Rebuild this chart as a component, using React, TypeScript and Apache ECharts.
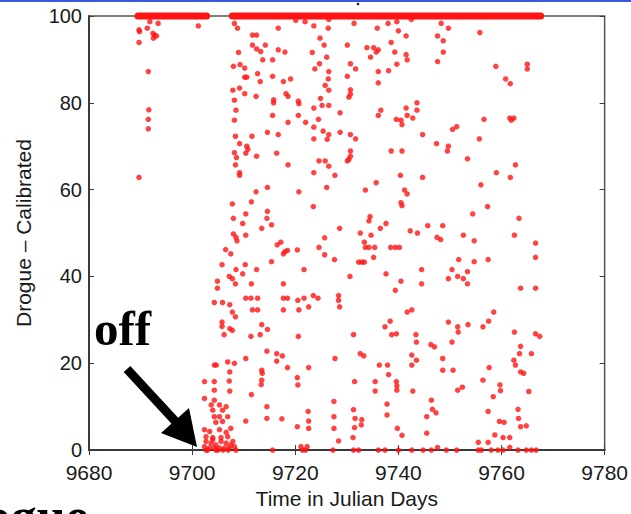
import React, { useEffect, useRef } from "react";
import * as echarts from "echarts";

// ---- data (day, calibrated drogue value) ----
const xTickValues = [9680, 9700, 9720, 9740, 9760, 9780];
const yTickValues = [0, 20, 40, 60, 80, 100];

// runs of saturated readings at 100 (start day, end day)
const saturatedRuns: [number, number][] = [
  [9689.5, 9702.8],
  [9707.8, 9767.6],
];
const saturatedLevel = 100;

const earlyPoints: [number, number][] = [
  [9691.8, 98.7], [9693.4, 98.3], [9689.7, 96.8], [9689.8, 96.4], [9691.3, 97.2], [9692.4, 96.0],
  [9692.7, 95.6], [9692.5, 94.9], [9693.1, 95.4], [9689.7, 93.9], [9701.2, 97.7], [9691.5, 87.2],
  [9691.6, 78.4], [9691.5, 76.2], [9691.5, 74.0], [9689.7, 62.8],
];

const upperPoints: [number, number][] = [
  [9708.2, 98.3], [9708.8, 97.2], [9711.7, 95.6], [9712.5, 95.6], [9711.7, 93.3], [9712.5, 92.4],
  [9713.3, 91.8], [9713.7, 89.9], [9714.2, 93.3], [9709.0, 91.6], [9716.7, 97.2], [9716.7, 92.2],
  [9718.0, 91.7], [9715.6, 89.9], [9708.0, 88.4], [9709.3, 88.8], [9710.2, 88.0], [9710.2, 85.9],
  [9710.6, 85.9], [9712.7, 86.7], [9713.2, 84.9], [9715.6, 86.1], [9717.7, 84.9], [9719.1, 85.5],
  [9707.9, 82.9], [9709.2, 83.4], [9710.2, 82.1], [9712.4, 81.5], [9715.8, 80.7], [9715.8, 80.0],
  [9718.2, 82.1], [9718.6, 81.5], [9720.6, 80.4], [9720.7, 79.8], [9708.2, 80.6], [9708.5, 78.3],
  [9715.6, 77.1], [9708.2, 76.0], [9711.6, 72.3], [9714.6, 73.2], [9716.7, 72.7], [9718.6, 75.5],
  [9720.6, 77.1], [9722.0, 75.5], [9723.6, 78.8], [9723.6, 74.4], [9724.5, 76.2], [9725.2, 79.4],
  [9726.5, 79.4], [9726.4, 85.5], [9725.8, 84.0], [9726.5, 82.9], [9724.9, 81.0], [9723.6, 71.7],
  [9726.5, 72.7], [9725.4, 73.5], [9726.2, 71.6], [9728.7, 73.2], [9728.7, 77.7], [9708.4, 72.3],
  [9709.2, 70.6], [9710.6, 70.0], [9710.8, 69.3], [9710.4, 68.4], [9712.5, 67.7], [9708.2, 68.5],
  [9708.6, 67.4], [9708.4, 65.7], [9709.2, 63.9], [9709.2, 63.3], [9716.4, 68.4], [9718.6, 65.7],
  [9723.6, 63.9], [9724.6, 66.6], [9725.8, 66.6], [9726.5, 65.4], [9727.7, 63.3], [9712.4, 59.5],
  [9714.6, 60.5], [9720.7, 59.5], [9726.1, 60.5], [9720.1, 99.0], [9721.9, 98.7], [9723.6, 97.7],
  [9726.5, 99.2], [9726.4, 97.2], [9724.8, 94.9], [9725.6, 93.3], [9723.3, 91.6], [9726.1, 90.5],
  [9724.7, 89.0], [9723.8, 87.8], [9726.5, 87.2], [9730.1, 93.3], [9730.1, 86.1], [9730.1, 66.6],
  [9731.4, 98.3], [9735.9, 97.2], [9738.0, 98.3], [9739.7, 98.7], [9742.5, 99.2], [9740.0, 96.6],
  [9741.5, 95.4], [9748.3, 98.3], [9749.7, 97.2], [9747.6, 95.4], [9748.7, 94.3], [9755.8, 96.2],
  [9733.9, 92.7], [9735.2, 92.7], [9736.1, 92.2], [9735.7, 91.7], [9734.6, 90.5], [9738.6, 93.9],
  [9739.3, 91.7], [9741.5, 91.1], [9741.7, 89.9], [9748.7, 91.7], [9747.6, 89.5], [9739.7, 88.9],
  [9730.7, 89.0], [9731.7, 87.8], [9736.1, 87.2], [9738.1, 87.4], [9736.1, 84.6], [9758.9, 88.4],
  [9765.0, 88.9], [9765.0, 87.8], [9760.8, 85.5], [9761.7, 84.4], [9730.7, 83.0], [9730.7, 82.0],
  [9730.4, 81.3], [9736.6, 78.3], [9736.1, 77.1], [9741.5, 78.8], [9743.6, 80.0], [9743.6, 78.3],
  [9741.7, 77.1], [9742.8, 76.5], [9739.6, 76.2], [9740.5, 76.0], [9740.7, 75.0], [9756.6, 76.2],
  [9761.6, 76.5], [9762.4, 76.5], [9761.9, 76.0], [9751.3, 74.5], [9750.5, 73.9], [9744.7, 72.7],
  [9730.7, 72.7], [9731.7, 71.7], [9747.4, 70.6], [9749.7, 70.0], [9749.5, 68.9], [9755.7, 71.7],
  [9738.6, 68.9], [9740.7, 68.9], [9730.7, 68.9], [9730.7, 67.7], [9730.4, 67.0], [9753.4, 67.1],
  [9762.7, 65.7], [9740.4, 63.3], [9744.7, 62.8], [9759.0, 63.9], [9761.7, 62.8], [9735.7, 61.6],
  [9733.6, 59.9], [9741.2, 59.9], [9741.7, 59.0], [9756.0, 61.1],
];

const middlePoints: [number, number][] = [
  [9707.8, 56.7], [9711.5, 57.2], [9723.5, 56.1], [9740.5, 57.0], [9740.7, 56.3],
  [9708.0, 53.4], [9710.4, 54.4], [9714.6, 55.0], [9714.5, 53.4], [9734.5, 53.8], [9734.3, 52.8],
  [9737.6, 52.2], [9736.5, 51.1], [9757.3, 56.1], [9754.4, 54.4], [9763.4, 53.4],
  [9709.8, 52.2], [9713.5, 51.1], [9715.4, 51.9], [9728.6, 51.1], [9732.6, 50.0], [9734.7, 49.5],
  [9742.3, 50.5], [9743.7, 50.0], [9745.7, 51.7], [9748.6, 51.7], [9747.5, 49.0], [9748.2, 48.5],
  [9752.6, 49.5], [9754.7, 48.2], [9762.5, 49.5], [9766.6, 47.7],
  [9708.0, 49.8], [9708.5, 49.0], [9708.7, 48.2], [9710.4, 49.5], [9716.5, 47.3], [9717.2, 47.9],
  [9718.0, 45.7], [9718.5, 46.0], [9717.7, 45.2], [9720.4, 46.1], [9725.7, 48.9], [9724.6, 46.7],
  [9725.7, 45.0], [9727.6, 43.9], [9733.4, 47.9], [9733.6, 46.7], [9734.3, 46.7], [9735.4, 46.7],
  [9738.5, 46.7], [9739.4, 46.7], [9740.2, 46.7], [9735.2, 44.4], [9732.9, 43.3], [9732.3, 43.3],
  [9733.4, 43.3], [9706.5, 46.2], [9707.5, 45.2], [9715.4, 43.4], [9721.7, 41.6], [9730.6, 40.0],
  [9737.6, 40.6], [9740.5, 38.9], [9739.4, 36.8], [9744.5, 41.6], [9744.5, 38.3], [9749.7, 39.5],
  [9751.7, 43.9], [9754.7, 43.4], [9757.4, 43.9], [9750.4, 41.6], [9751.5, 40.0], [9752.6, 39.5],
  [9753.4, 41.1], [9753.4, 38.3], [9766.6, 44.4], [9763.7, 37.3], [9766.6, 37.3],
  [9705.8, 42.7], [9710.3, 42.7], [9708.5, 41.6], [9709.8, 40.6], [9712.5, 41.6], [9704.9, 38.9],
  [9704.9, 37.3], [9707.2, 40.0], [9707.8, 39.5], [9708.4, 38.3], [9711.5, 38.3], [9704.3, 34.0],
  [9705.9, 34.0], [9707.3, 33.5], [9707.8, 31.8], [9708.4, 30.7], [9710.4, 35.0], [9711.4, 35.0],
  [9712.7, 35.0], [9711.7, 32.3], [9712.7, 32.3], [9717.7, 38.3], [9717.7, 35.0], [9718.5, 35.0],
  [9717.7, 32.3], [9720.5, 34.5], [9720.7, 32.3], [9721.7, 35.0], [9722.6, 33.0], [9723.5, 35.6],
  [9724.4, 35.0], [9728.4, 35.6], [9728.4, 34.5], [9728.6, 33.0], [9741.7, 31.8], [9742.6, 32.3],
  [9738.4, 29.7], [9737.4, 28.4], [9738.7, 26.6], [9739.6, 26.8], [9743.4, 26.6], [9743.5, 24.9],
  [9746.3, 24.3], [9747.0, 23.8], [9749.7, 29.5], [9751.5, 28.4], [9751.6, 27.2], [9753.5, 28.9],
  [9756.4, 28.4], [9757.5, 29.7], [9758.5, 31.8], [9762.5, 27.2], [9766.6, 26.8], [9767.4, 26.2],
  [9705.8, 29.5], [9705.8, 28.5], [9706.2, 26.6], [9707.3, 28.0], [9707.8, 27.6], [9713.5, 28.9],
  [9714.6, 27.8], [9713.2, 26.6], [9711.4, 26.2], [9720.6, 26.2], [9731.3, 26.6], [9714.5, 22.8],
  [9716.4, 22.2], [9717.5, 21.7], [9716.4, 20.5], [9718.5, 19.0], [9722.6, 19.0], [9710.4, 21.1],
  [9713.5, 18.4], [9713.6, 17.7], [9727.7, 21.1], [9732.6, 22.2], [9733.3, 21.7], [9736.3, 19.6],
  [9737.9, 19.6], [9742.6, 21.9], [9742.6, 19.6], [9743.5, 20.7], [9748.6, 21.1], [9748.6, 18.4],
  [9750.4, 24.9], [9750.6, 18.4], [9757.6, 19.0], [9763.7, 23.9], [9763.5, 22.2], [9765.8, 22.2],
  [9762.4, 20.7], [9762.7, 19.6], [9763.7, 18.0], [9764.3, 17.7],
];

const lowerPoints: [number, number][] = [
  [9704.3, 19.6], [9704.7, 19.6], [9706.9, 20.3], [9708.2, 20.0], [9707.3, 18.0], [9707.2, 15.9],
  [9707.3, 13.6], [9702.4, 15.8], [9704.3, 15.8], [9704.3, 13.8], [9711.5, 12.8], [9713.5, 16.1],
  [9713.4, 15.1], [9720.4, 16.7], [9720.5, 15.0], [9731.5, 15.8], [9735.5, 15.8], [9735.5, 13.6],
  [9739.6, 15.8], [9739.7, 14.8], [9739.7, 13.8], [9742.8, 13.6], [9751.5, 13.8], [9752.4, 14.5],
  [9756.4, 16.1], [9759.7, 15.0], [9759.8, 13.7], [9765.3, 13.5], [9738.1, 17.4],
  [9714.5, 10.0], [9714.5, 7.3], [9710.4, 6.7], [9717.4, 7.2], [9720.4, 5.4], [9722.5, 8.9],
  [9722.6, 6.7], [9722.6, 5.0], [9727.5, 11.2], [9727.5, 7.7], [9727.5, 5.0], [9728.4, 2.1],
  [9731.3, 9.3], [9731.6, 7.3], [9731.5, 5.2], [9732.8, 5.8], [9732.9, 7.0], [9731.2, 2.9],
  [9737.8, 10.6], [9737.8, 8.1], [9739.8, 5.0], [9740.7, 3.4], [9746.4, 11.5], [9746.6, 9.4],
  [9747.3, 8.6], [9745.5, 7.7], [9745.5, 3.9], [9763.2, 9.4], [9763.3, 7.3], [9763.7, 5.4],
  [9764.8, 5.6], [9758.4, 12.3], [9757.4, 8.9], [9759.6, 6.6], [9760.5, 6.4], [9758.7, 3.5],
  [9760.3, 2.9], [9761.6, 2.9], [9755.5, 1.8], [9757.4, 1.8],
  [9702.4, 11.9], [9703.7, 10.4], [9704.3, 11.5], [9705.3, 10.4], [9706.6, 10.0], [9704.0, 9.2],
  [9705.9, 9.2], [9704.3, 7.7], [9705.3, 7.7], [9706.9, 7.7], [9704.6, 6.4], [9705.9, 6.6],
  [9702.4, 4.7], [9703.4, 4.3], [9705.3, 4.7], [9706.6, 4.1], [9707.5, 5.0], [9702.7, 3.1],
  [9704.0, 2.9], [9705.6, 2.9], [9706.9, 3.1], [9702.7, 2.0], [9703.7, 1.6], [9704.6, 1.2],
  [9705.6, 2.0], [9706.6, 1.6], [9707.5, 1.2], [9702.4, 0.8], [9703.4, 0.5], [9704.3, 0.5],
  [9705.3, 0.5], [9706.3, 0.5], [9707.2, 0.5], [9708.2, 0.8], [9704.0, 2.4], [9707.9, 2.0],
];

const bottomPoints: [number, number][] = [
  [9702.7, 0], [9703.0, 0], [9704.6, 0], [9705.0, 0], [9706.0, 0], [9707.0, 0], [9708.5, 0],
  [9715.6, 0], [9721.1, 0.8], [9721.4, 0], [9722.0, 0], [9722.3, 0.8], [9727.3, 0], [9731.3, 0],
  [9732.3, 0], [9736.1, 0], [9737.4, 0], [9740.0, 0], [9742.6, 0], [9744.8, 0], [9746.4, 0],
  [9747.6, 0.6], [9749.3, 0], [9751.3, 0], [9755.5, 0], [9756.1, 0], [9758.0, 0], [9759.3, 0],
  [9760.3, 0], [9761.6, 0.6], [9763.2, 0], [9764.8, 0], [9765.8, 0], [9766.7, 0],
];

const RED = "#ff1414";
const AXIS = "#3a3a3a";

export default function App() {
  const ref = useRef<HTMLDivElement>(null);

  useEffect(() => {
    if (!ref.current) return;
    const chart = echarts.init(ref.current, undefined, { renderer: "svg" });

    const scatterStyle = (data: [number, number][]) => ({
      type: "scatter" as const,
      data,
      symbol: "circle",
      symbolSize: 5.5,
      itemStyle: { color: RED },
      silent: true,
      clip: false,
    });

    const runSeries = saturatedRuns.map(([a, b]) => ({
      type: "line" as const,
      data: [
        [a, saturatedLevel],
        [b, saturatedLevel],
      ],
      symbol: "none",
      lineStyle: { color: RED, width: 7, cap: "round" },
      silent: true,
      clip: false,
      z: 3,
    }));

    const labelFont = { fontFamily: "Liberation Sans, Arial, sans-serif", color: "#1a1a1a" };

    chart.setOption({
      animation: false,
      backgroundColor: "#ffffff",
      grid: {
        left: 89,
        right: 24,
        top: 16,
        bottom: 62,
        show: true,
        borderColor: "#555",
        borderWidth: 1.5,
      },
      xAxis: [
        {
          type: "value",
          min: xTickValues[0],
          max: xTickValues[xTickValues.length - 1],
          interval: 20,
          axisLine: { show: true, onZero: false, lineStyle: { color: AXIS, width: 2 } },
          axisTick: { show: true, inside: true, length: 5, lineStyle: { color: AXIS } },
          axisLabel: { ...labelFont, fontSize: 21, margin: 12, formatter: (v: number) => String(v) },
          splitLine: { show: false },
          name: "Time in Julian Days",
          nameLocation: "middle",
          nameGap: 36,
          nameTextStyle: { ...labelFont, fontSize: 21 },
        },
        {
          type: "value",
          position: "top",
          min: xTickValues[0],
          max: xTickValues[xTickValues.length - 1],
          interval: 20,
          axisLine: { show: false },
          axisTick: { show: true, inside: true, length: 5, lineStyle: { color: AXIS } },
          axisLabel: { show: false },
          splitLine: { show: false },
        },
      ],
      yAxis: [
        {
          type: "value",
          min: yTickValues[0],
          max: yTickValues[yTickValues.length - 1],
          interval: 20,
          axisLine: { show: true, onZero: false, lineStyle: { color: AXIS, width: 2 } },
          axisTick: { show: true, inside: true, length: 5, lineStyle: { color: AXIS } },
          axisLabel: { ...labelFont, fontSize: 20, margin: 7, formatter: (v: number) => String(v) },
          splitLine: { show: false },
          name: "Drogue \u2013 Calibrated",
          nameLocation: "middle",
          nameGap: 55,
          nameTextStyle: { ...labelFont, fontSize: 21 },
        },
        {
          type: "value",
          position: "right",
          min: yTickValues[0],
          max: yTickValues[yTickValues.length - 1],
          interval: 20,
          axisLine: { show: false },
          axisTick: { show: true, inside: true, length: 5, lineStyle: { color: AXIS } },
          axisLabel: { show: false },
          splitLine: { show: false },
        },
      ],
      series: [
        ...runSeries,
        scatterStyle(earlyPoints),
        scatterStyle(upperPoints),
        scatterStyle(middlePoints),
        scatterStyle(lowerPoints),
        scatterStyle(bottomPoints),
      ],
      graphic: [
        { type: "rect", shape: { x: 0, y: 0, width: 631, height: 2 }, style: { fill: "#3b58e0" }, silent: true },
        { type: "circle", shape: { cx: 358, cy: 4, r: 1.3 }, style: { fill: "#222" }, silent: true },
        {
          type: "text",
          x: 94,
          y: 328,
          style: {
            text: "off",
            font: "bold 49px 'Liberation Serif', 'Times New Roman', serif",
            fill: "#000",
            textVerticalAlign: "middle",
          },
          silent: true,
        },
        {
          type: "line",
          shape: { x1: 127, y1: 369, x2: 176, y2: 422 },
          style: { stroke: "#000", lineWidth: 9 },
          silent: true,
        },
        {
          type: "polygon",
          shape: { points: [[161, 433], [189, 408], [197, 447]] },
          style: { fill: "#000" },
          silent: true,
        },
        {
          type: "text",
          x: -75,
          y: 516,
          style: {
            text: "Drogue",
            font: "bold 52px 'Liberation Serif', 'Times New Roman', serif",
            fill: "#000",
            textVerticalAlign: "middle",
          },
          silent: true,
        },
      ],
    });

    return () => chart.dispose();
  }, []);

  return <div ref={ref} style={{ width: 631, height: 514, position: "fixed", left: 0, top: 0 }} />;
}
